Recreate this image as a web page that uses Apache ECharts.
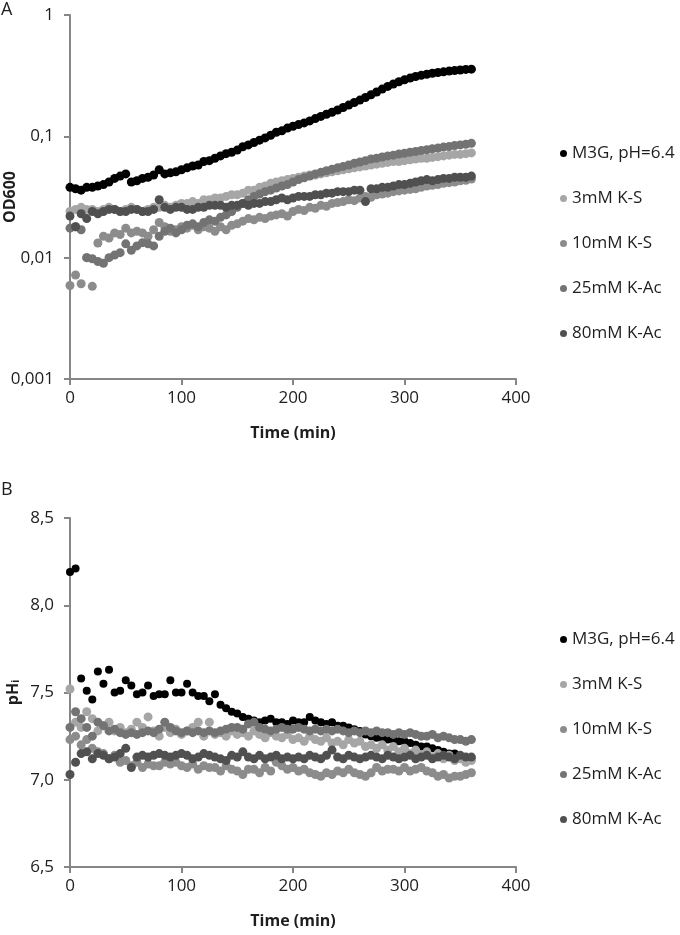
<!DOCTYPE html>
<html><head><meta charset="utf-8">
<script src="https://cdn.jsdelivr.net/npm/echarts@6/dist/echarts.min.js"></script>
<style>html,body{margin:0;padding:0;background:#fff}#c{width:680px;height:935px}</style>
</head><body><div id="c"></div>
<script>
const seriesNames = ['M3G, pH=6.4', '3mM K-S', '10mM K-S', '25mM K-Ac', '80mM K-Ac'];
const seriesColors = ['#000000', '#a6a6a6', '#8c8c8c', '#737373', '#505050'];

const time = [0,5,10,15,20,25,30,35,40,45,50,55,60,65,70,75,80,85,90,95,100,105,110,115,120,125,130,135,140,145,150,155,160,165,170,175,180,185,190,195,200,205,210,215,220,225,230,235,240,245,250,255,260,265,270,275,280,285,290,295,300,305,310,315,320,325,330,335,340,345,350,355,360];

const xTicks = [0, 100, 200, 300, 400];
const odTicks = ['0,001', '0,01', '0,1', '1'];
const phTicks = ['6,5', '7,0', '7,5', '8,0', '8,5'];

// Panel A: OD600
const odM3G = [0.038,0.037,0.036,0.038,0.038,0.039,0.040,0.042,0.045,0.047,0.049,0.042,0.043,0.045,0.046,0.048,0.053,0.049,0.050,0.051,0.053,0.055,0.057,0.058,0.062,0.063,0.066,0.069,0.072,0.074,0.077,0.082,0.085,0.089,0.093,0.097,0.102,0.108,0.111,0.117,0.121,0.125,0.129,0.134,0.140,0.146,0.152,0.158,0.165,0.173,0.181,0.190,0.199,0.209,0.220,0.232,0.245,0.258,0.270,0.282,0.292,0.302,0.311,0.318,0.325,0.331,0.336,0.340,0.345,0.349,0.352,0.356,0.358];
const od3mM = [0.024,0.025,0.026,0.025,0.025,0.024,0.025,0.026,0.025,0.024,0.025,0.026,0.025,0.024,0.025,0.026,0.026,0.027,0.026,0.027,0.028,0.028,0.029,0.028,0.030,0.030,0.031,0.031,0.032,0.033,0.033,0.034,0.036,0.036,0.038,0.039,0.041,0.042,0.043,0.044,0.045,0.046,0.047,0.048,0.048,0.049,0.050,0.051,0.052,0.053,0.054,0.055,0.056,0.057,0.058,0.059,0.060,0.061,0.062,0.062,0.063,0.064,0.065,0.066,0.066,0.067,0.068,0.069,0.070,0.071,0.071,0.072,0.073];
const od10mM = [0.0059,0.0072,0.0061,0.0100,0.0058,0.0132,0.0150,0.0145,0.0160,0.0155,0.0175,0.0160,0.0165,0.0160,0.0150,0.0170,0.0195,0.0180,0.0165,0.0170,0.0180,0.0175,0.0185,0.0170,0.0180,0.0175,0.0165,0.0180,0.0170,0.0185,0.0190,0.0200,0.0210,0.0205,0.0215,0.0210,0.0220,0.0225,0.0230,0.0220,0.0240,0.0250,0.0245,0.0260,0.0255,0.0270,0.0265,0.0280,0.0285,0.0290,0.0300,0.0295,0.0310,0.0320,0.0315,0.0330,0.0335,0.0340,0.0350,0.0355,0.0360,0.0365,0.0370,0.0380,0.0390,0.0395,0.0400,0.0410,0.0415,0.0420,0.0430,0.0435,0.0445];
const od25mM = [0.0175,0.0180,0.0170,0.0100,0.0098,0.0093,0.0090,0.0100,0.0105,0.0110,0.0130,0.0115,0.0125,0.0133,0.0130,0.0125,0.0150,0.0165,0.0175,0.0160,0.0170,0.0185,0.0190,0.0180,0.0195,0.0205,0.0200,0.0215,0.0225,0.0240,0.0260,0.0280,0.0300,0.0320,0.0335,0.0350,0.0360,0.0375,0.0390,0.0400,0.0420,0.0440,0.0455,0.0470,0.0490,0.0505,0.0520,0.0535,0.0550,0.0565,0.0580,0.0600,0.0615,0.0630,0.0650,0.0660,0.0675,0.0690,0.0700,0.0715,0.0725,0.0740,0.0750,0.0765,0.0775,0.0790,0.0800,0.0815,0.0825,0.0840,0.0850,0.0860,0.0875];
const od80mM = [0.022,0.018,0.023,0.021,0.024,0.023,0.024,0.025,0.025,0.024,0.024,0.025,0.025,0.024,0.024,0.025,0.030,0.026,0.025,0.026,0.026,0.025,0.025,0.026,0.026,0.027,0.027,0.027,0.026,0.027,0.027,0.028,0.027,0.028,0.028,0.029,0.029,0.030,0.031,0.030,0.031,0.032,0.032,0.032,0.033,0.033,0.034,0.034,0.035,0.035,0.035,0.036,0.036,0.029,0.037,0.037,0.038,0.038,0.039,0.040,0.040,0.041,0.042,0.043,0.044,0.043,0.044,0.045,0.045,0.046,0.046,0.046,0.047];

// Panel B: pHi
const phM3G = [8.19,8.21,7.58,7.51,7.46,7.62,7.55,7.63,7.50,7.51,7.57,7.54,7.49,7.50,7.54,7.48,7.49,7.49,7.57,7.50,7.50,7.55,7.50,7.48,7.48,7.45,7.49,7.43,7.41,7.39,7.38,7.36,7.35,7.34,7.33,7.34,7.35,7.33,7.33,7.32,7.34,7.33,7.33,7.36,7.34,7.33,7.32,7.33,7.31,7.31,7.30,7.29,7.28,7.26,7.25,7.24,7.24,7.23,7.23,7.22,7.22,7.21,7.20,7.19,7.19,7.18,7.17,7.16,7.15,7.15,7.13,7.12,7.12];
const ph3mM = [7.52,7.33,7.30,7.39,7.35,7.28,7.31,7.33,7.28,7.30,7.27,7.29,7.33,7.30,7.36,7.28,7.25,7.30,7.27,7.29,7.26,7.28,7.30,7.33,7.25,7.33,7.26,7.27,7.25,7.28,7.26,7.27,7.25,7.28,7.26,7.24,7.27,7.25,7.24,7.26,7.23,7.24,7.22,7.25,7.23,7.22,7.24,7.21,7.22,7.20,7.23,7.21,7.22,7.19,7.20,7.18,7.20,7.17,7.19,7.16,7.18,7.15,7.17,7.14,7.16,7.13,7.15,7.12,7.14,7.11,7.12,7.10,7.11];
const ph10mM = [7.23,7.25,7.20,7.23,7.18,7.16,7.15,7.12,7.14,7.10,7.11,7.08,7.10,7.07,7.09,7.08,7.08,7.10,7.09,7.10,7.08,7.07,7.09,7.06,7.08,7.07,7.07,7.05,7.08,7.06,7.05,7.03,7.06,7.06,7.04,7.07,7.05,7.10,7.08,7.06,7.07,7.05,7.06,7.04,7.03,7.02,7.04,7.03,7.05,7.04,7.06,7.04,7.03,7.02,7.04,7.07,7.05,7.06,7.06,7.05,7.07,7.05,7.06,7.07,7.05,7.04,7.02,7.03,7.01,7.02,7.02,7.03,7.04];
const ph25mM = [7.30,7.39,7.35,7.30,7.25,7.33,7.31,7.28,7.29,7.27,7.26,7.27,7.26,7.27,7.28,7.27,7.29,7.33,7.30,7.28,7.27,7.28,7.27,7.28,7.27,7.28,7.27,7.28,7.29,7.30,7.30,7.29,7.32,7.33,7.30,7.29,7.28,7.29,7.30,7.29,7.29,7.30,7.29,7.28,7.29,7.28,7.29,7.28,7.29,7.28,7.27,7.28,7.27,7.28,7.27,7.28,7.27,7.27,7.26,7.27,7.26,7.27,7.26,7.25,7.25,7.26,7.24,7.25,7.24,7.23,7.23,7.22,7.23];
const ph80mM = [7.03,7.10,7.15,7.16,7.12,7.15,7.14,7.12,7.13,7.15,7.18,7.07,7.13,7.14,7.13,7.14,7.15,7.14,7.13,7.14,7.15,7.14,7.12,7.13,7.15,7.14,7.13,7.12,7.11,7.14,7.13,7.16,7.13,7.12,7.14,7.12,7.13,7.14,7.12,7.13,7.12,7.13,7.12,7.14,7.13,7.12,7.14,7.17,7.13,7.12,7.14,7.13,7.12,7.13,7.14,7.13,7.12,7.14,7.13,7.12,7.13,7.14,7.12,7.13,7.14,7.12,7.13,7.14,7.13,7.12,7.14,7.13,7.13];

const odData = [odM3G, od3mM, od10mM, od25mM, od80mM];
const phData = [phM3G, ph3mM, ph10mM, ph25mM, ph80mM];

const FONT = '"Open Sans", sans-serif';
const axisGray = '#868686';
const txt = '#1e1e1e';

function pairs(arr) { return time.map((t, i) => [t, arr[i]]); }

function xAxisCfg(gi) {
  return {
    gridIndex: gi, type: 'value', min: xTicks[0], max: xTicks[xTicks.length - 1], interval: xTicks[1] - xTicks[0],
    axisLine: { show: true, onZero: false, lineStyle: { color: axisGray, width: 2 } },
    axisTick: { show: true, length: 6, lineStyle: { color: axisGray, width: 2 } },
    splitLine: { show: false },
    axisLabel: { fontSize: 17, color: txt, fontFamily: FONT, margin: 11 },
    name: 'Time (min)', nameLocation: 'middle', nameGap: 46, nameMoveOverlap: false,
    nameTextStyle: { fontSize: 16, fontWeight: 'bold', color: txt, fontFamily: FONT }
  };
}

const series = [];
seriesNames.forEach((n, k) => {
  series.push({
    name: n, type: 'scatter', xAxisIndex: 0, yAxisIndex: 0,
    symbolSize: 9, data: pairs(odData[k]),
    itemStyle: { color: seriesColors[k], opacity: 1 }, z: 2 + k
  });
});
seriesNames.forEach((n, k) => {
  series.push({
    name: n, type: 'scatter', xAxisIndex: 1, yAxisIndex: 1,
    symbolSize: k === 0 ? 8 : 9, data: pairs(phData[k]),
    itemStyle: { color: seriesColors[k], opacity: 1 }, z: 2 + k
  });
});

const odMap = { 0.001: odTicks[0], 0.01: odTicks[1], 0.1: odTicks[2], 1: odTicks[3] };
const legendBase = {
  orient: 'vertical', left: 555, itemWidth: 7, itemHeight: 7, itemGap: 28, icon: 'circle',
  textStyle: { fontSize: 17, lineHeight: 14, color: txt, fontFamily: FONT },
  data: seriesNames, selectedMode: false
};

const option = {
  animation: false,
  backgroundColor: '#ffffff',
  title: [
    { text: 'A', left: 1, top: 1, padding: 0, textStyle: { fontSize: 18, fontWeight: 'normal', color: txt, fontFamily: FONT } },
    { text: 'B', left: 1, top: 481, padding: 0, textStyle: { fontSize: 18, fontWeight: 'normal', color: txt, fontFamily: FONT } }
  ],
  legend: [
    Object.assign({}, legendBase, { top: 140 }),
    Object.assign({}, legendBase, { top: 626 })
  ],
  grid: [
    { left: 70, top: 15, width: 446, height: 364, outerBoundsMode: 'none', containLabel: false },
    { left: 70, top: 518, width: 446, height: 349, outerBoundsMode: 'none', containLabel: false }
  ],
  xAxis: [xAxisCfg(0), xAxisCfg(1)],
  yAxis: [
    {
      gridIndex: 0, type: 'log', logBase: 10, min: 0.001, max: 1,
      axisLine: { show: true, lineStyle: { color: axisGray, width: 2 } },
      axisTick: { show: true, length: 6, lineStyle: { color: axisGray, width: 2 } },
      minorTick: { show: false }, splitLine: { show: false },
      axisLabel: {
        fontSize: 17, color: txt, fontFamily: FONT, margin: 16,
        formatter: v => { const k = Number(Number(v).toPrecision(3)); return odMap[k] !== undefined ? odMap[k] : String(k).replace('.', ','); }
      },
      name: 'OD600', nameLocation: 'middle', nameGap: 52, nameRotate: 90, nameMoveOverlap: false,
      nameTextStyle: { fontSize: 16, fontWeight: 'bold', color: txt, fontFamily: FONT }
    },
    {
      gridIndex: 1, type: 'value', min: 6.5, max: 8.5, interval: 0.5,
      axisLine: { show: true, lineStyle: { color: axisGray, width: 2 } },
      axisTick: { show: true, length: 6, lineStyle: { color: axisGray, width: 2 } },
      splitLine: { show: false },
      axisLabel: {
        fontSize: 17, color: txt, fontFamily: FONT, margin: 16,
        formatter: v => phTicks[Math.round((v - 6.5) / 0.5)]
      },
      name: '{a|pH}{b|i}', nameLocation: 'middle', nameGap: 49, nameRotate: 90, nameMoveOverlap: false,
      nameTextStyle: {
        fontFamily: FONT, color: txt,
        rich: {
          a: { fontSize: 16, fontWeight: 'bold', color: txt, fontFamily: FONT, verticalAlign: 'bottom', lineHeight: 22 },
          b: { fontSize: 10, fontWeight: 'bold', color: txt, fontFamily: FONT, verticalAlign: 'bottom', lineHeight: 10, padding: [8, 0, 0, 0] }
        }
      }
    }
  ],
  series: series
};

const chart = echarts.init(document.getElementById('c'), null, { renderer: 'canvas' });
chart.setOption(option);
</script>
</body></html>
